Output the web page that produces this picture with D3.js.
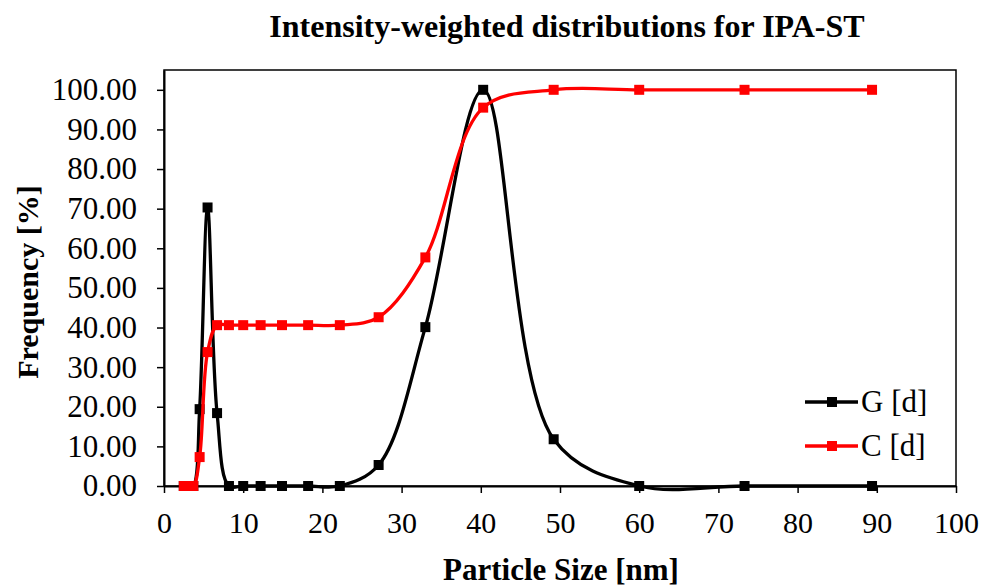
<!DOCTYPE html>
<html>
<head>
<meta charset="utf-8">
<script src="https://cdn.jsdelivr.net/npm/d3@7"></script>
<style>
  body { margin: 0; background: #fff; }
  svg text { font-family: "Liberation Serif", "Times New Roman", serif; }
</style>
</head>
<body>
<div id="container"></div>
<script>
// particle sizes (nm) and the two series
const sizes = [2.5, 3.0, 3.7, 4.5, 5.5, 6.7, 8.2, 10.0, 12.2, 14.9, 18.2, 22.2, 27.1, 33.0, 40.3, 49.2, 60.0, 73.3, 89.4]
const gValues = [0, 0, 0, 19.4, 70.3, 18.4, 0, 0, 0, 0, 0, 0, 5.3, 40.1, 100, 11.8, 0, 0, 0]
const cValues = [0, 0, 0, 7.3, 33.8, 40.6, 40.6, 40.6, 40.6, 40.6, 40.6, 40.6, 42.6, 57.7, 95.5, 100, 100, 100, 100]
const xTicks = [0, 10, 20, 30, 40, 50, 60, 70, 80, 90, 100]
const yTicks = [0, 10, 20, 30, 40, 50, 60, 70, 80, 90, 100]

const w = 983
const h = 588
const plotLeft = 164, plotRight = 956, plotTop = 70, plotBottom = 486

const svg = d3.select('#container')
    .append('svg')
    .attr('width', w)
    .attr('height', h)

const scaleX = d3.scaleLinear([0, 100], [plotLeft, plotRight])
const scaleY = d3.scaleLinear([0, 105], [plotBottom, plotTop])

// frame round the plot
svg.append('rect')
    .attr('x', plotLeft)
    .attr('y', plotTop)
    .attr('width', plotRight - plotLeft)
    .attr('height', plotBottom - plotTop)
    .attr('fill', 'none')
    .attr('stroke', '#000')
    .attr('stroke-width', 1.5)

const axisX = d3.axisBottom(scaleX)
    .tickValues(xTicks)
    .tickFormat(d => d)
    .tickSize(7)
    .tickSizeOuter(0)

const axisY = d3.axisLeft(scaleY)
    .tickValues(yTicks)
    .tickFormat(d => d.toFixed(2))
    .tickSize(7)
    .tickSizeOuter(0)

const gx = svg.append('g')
    .attr('transform', `translate(0,${plotBottom})`)
    .call(axisX)
gx.select('.domain').attr('stroke-width', 2)
gx.selectAll('.tick line').attr('stroke-width', 1.5)
gx.selectAll('.tick text')
    .attr('font-size', 30)
    .attr('fill', '#000')
    .attr('dy', 0)
    .attr('y', 47)

const gy = svg.append('g')
    .attr('transform', `translate(${plotLeft},0)`)
    .call(axisY)
gy.select('.domain').attr('stroke-width', 2)
gy.selectAll('.tick line').attr('stroke-width', 1.5)
gy.selectAll('.tick text')
    .attr('font-size', 31)
    .attr('fill', '#000')
    .attr('x', -27)

const series = [
    { name: 'G [d]', values: gValues, color: '#000000' },
    { name: 'C [d]', values: cValues, color: '#ff0000' }
]

const line = d3.line()
    .x(d => scaleX(d[0]))
    .y(d => scaleY(d[1]))
    .curve(d3.curveCatmullRom.alpha(0.5))

series.forEach(s => {
    const pts = sizes.map((x, i) => [x, s.values[i]])
    svg.append('path')
        .datum(pts)
        .attr('d', line)
        .attr('fill', 'none')
        .attr('stroke', s.color)
        .attr('stroke-width', 3.3)
    svg.selectAll(null)
        .data(pts)
        .enter()
        .append('rect')
        .attr('x', d => scaleX(d[0]) - 5)
        .attr('y', d => scaleY(d[1]) - 5)
        .attr('width', 10)
        .attr('height', 10)
        .attr('fill', s.color)
})

// legend
const legend = svg.append('g')
    .attr('transform', 'translate(805,402)')

series.forEach((s, i) => {
    const row = legend.append('g').attr('transform', `translate(0,${i * 44})`)
    row.append('line')
        .attr('x1', 0).attr('x2', 53)
        .attr('stroke', s.color)
        .attr('stroke-width', 3.3)
    row.append('rect')
        .attr('x', 22).attr('y', -5)
        .attr('width', 10).attr('height', 10)
        .attr('fill', s.color)
    row.append('text')
        .text(s.name)
        .attr('x', 56)
        .attr('y', 10)
        .attr('font-size', 31)
})

svg.append('text')
    .text('Intensity-weighted distributions for IPA-ST')
    .attr('x', 567)
    .attr('y', 37)
    .attr('text-anchor', 'middle')
    .attr('font-weight', 'bold')
    .attr('font-size', 32)

svg.append('text')
    .text('Particle Size [nm]')
    .attr('x', 561)
    .attr('y', 580)
    .attr('text-anchor', 'middle')
    .attr('font-weight', 'bold')
    .attr('font-size', 31)

svg.append('text')
    .text('Frequency [%]')
    .attr('transform', 'translate(38,282) rotate(-90)')
    .attr('text-anchor', 'middle')
    .attr('font-weight', 'bold')
    .attr('font-size', 30)
</script>
</body>
</html>
